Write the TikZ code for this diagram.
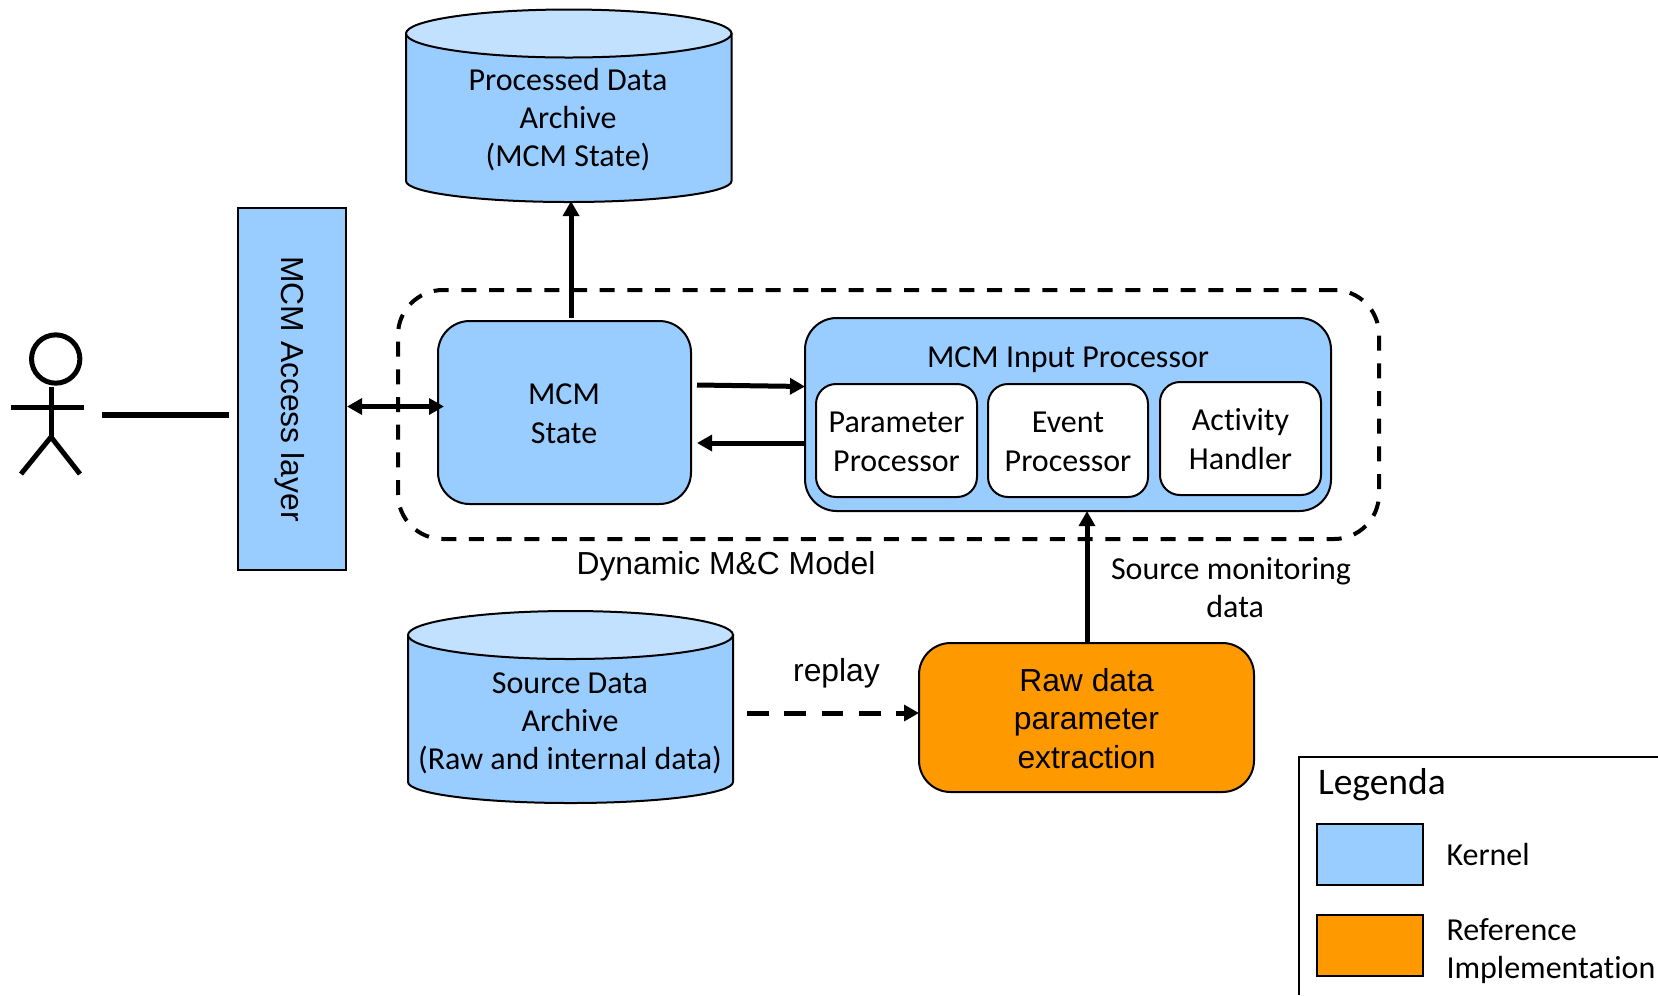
\documentclass[tikz,border=0pt]{standalone}
\usepackage{fontspec}
\setmainfont{Carlito}[Ligatures=NoCommon]
\newfontfamily\arialfont{Liberation Sans}
\usetikzlibrary{arrows.meta}
\definecolor{kernelblue}{HTML}{99CCFF}
\definecolor{kerneltop}{HTML}{C2E0FF}
\definecolor{refobj}{HTML}{FF9900}
\tikzset{
  pxsize/.style 2 args={minimum width=#1*0.6pt,minimum height=#2*0.6pt},
  base/.style={inner sep=0pt,outer sep=0pt,line width=1.2pt,draw=black,align=center},
  kernelbox/.style={base,fill=kernelblue,rounded corners=19pt},
  whitebox/.style={base,fill=white,rounded corners=12pt},
  refbox/.style={base,fill=refobj,rounded corners=19pt},
  squarebox/.style={base,fill=kernelblue},
  dynbox/.style={inner sep=0pt,outer sep=0pt,draw=black,line width=2.4pt,rounded corners=27pt,
    dash pattern=on 9pt off 7.6pt},
  lab/.style={inner sep=0pt,outer sep=0pt,align=center,font=\fontsize{19.2}{22.8}\selectfont},
  boxlab/.style={font=\fontsize{19.2}{23.5}\selectfont},
  arlab/.style={inner sep=0pt,outer sep=0pt,align=center,font=\arialfont\fontsize{19.1}{23.2}\selectfont},
  flow/.style={line width=3pt,-{Triangle[length=9pt,width=9.5pt]}},
  flowboth/.style={line width=3pt,{Triangle[length=9pt,width=9.5pt]}-{Triangle[length=9pt,width=9.5pt]}},
  stick/.style={line width=3pt,draw=black},
  drumside/.style={line width=1.2pt,draw=black,fill=kernelblue},
  drumlid/.style={line width=1.2pt,draw=black,fill=kerneltop},
}
% #1 left, #2 right, #3 lid centre y, #4 lower side end y
\newcommand{\drumshape}[4]{%
  \pgfmathsetmacro{\drx}{(#2-#1)/2}%
  \draw[drumside] (#1,#3) -- (#1,#4) arc[start angle=180,end angle=360,x radius=\drx*0.6pt,y radius=21*0.6pt] -- (#2,#3) -- cycle;
  \draw[drumlid] (#1,#3) arc[start angle=180,end angle=-180,x radius=\drx*0.6pt,y radius=24*0.6pt];
}
\begin{document}
\begin{tikzpicture}[x=0.6pt,y=-0.6pt]
\useasboundingbox (0,0) rectangle (1658,995);
% cylinders
\drumshape{406}{731.5}{33.5}{181}
\drumshape{408}{733}{635}{782}
\node[lab,pxsize={325}{192}] (proc) at (569,106) {};
\node[lab] (proctxt) at (568,120) {Processed Data\\Archive\\(MCM State)};
\node[lab,pxsize={325}{193}] (src) at (570.5,707.5) {};
\node[lab] (srctxt) at (570,723) {Source Data\\Archive\\(Raw and internal data)};
% access layer
\node[squarebox,pxsize={108}{362}] (access) at (292,389) {};
\node[arlab,rotate=-90] (accesstxt) at (290,389) {MCM Access layer};
% dynamic model
\node[dynbox,pxsize={981}{249}] (dyn) at (888.5,414.5) {};
\node[arlab] (dyntxt) at (726,566) {Dynamic M\&C Model};
\node[kernelbox,pxsize={253}{183}] (state) at (564.5,412.5) {};
\node[lab,boxlab] (statetxt) at (564,414) {MCM\\State};
\node[kernelbox,pxsize={526}{193}] (input) at (1068,414.5) {};
\node[lab] (inputtxt) at (1068,360) {MCM Input Processor};
\node[whitebox,pxsize={161}{113}] (param) at (896.5,440.5) {};
\node[lab,boxlab] (paramtxt) at (896.5,441.5) {Parameter\\Processor};
\node[whitebox,pxsize={160}{113}] (event) at (1068,440.5) {};
\node[lab,boxlab] (eventtxt) at (1068,441.5) {Event\\Processor};
\node[whitebox,pxsize={161}{113}] (activity) at (1240.5,438.5) {};
\node[lab,boxlab] (activitytxt) at (1240.5,439.5) {Activity\\Handler};
\node[refbox,pxsize={335}{149}] (raw) at (1086.5,717.5) {};
\node[arlab] (rawtxt) at (1086.5,718.5) {Raw data\\parameter\\extraction};
\node[lab] (srcmon) at (1231,587.5) {Source monitoring\\\hspace*{5pt}data};
\node[arlab] (replay) at (836.5,673.5) {replay};
% connectors
\coordinate (stateTop) at (571,318);
\coordinate (procBottom) at (571,201);
\draw[flow] (stateTop) -- (procBottom);
\coordinate (stR) at (697,385);
\coordinate (inL) at (805,386.5);
\draw[flow] (stR) -- (inL);
\coordinate (inL2) at (805,443);
\coordinate (stR2) at (697,443);
\draw[flow] (inL2) -- (stR2);
\coordinate (accessR) at (347,406.5);
\coordinate (stateL) at (444,406.5);
\draw[flowboth] (accessR) -- (stateL);
\coordinate (rawTop) at (1087,643);
\coordinate (inB) at (1087,511);
\draw[flow] (rawTop) -- (inB);
\coordinate (srcR) at (747,713);
\coordinate (rawL) at (919,713);
\draw[line width=3pt,dash pattern=on 13pt off 9.4pt,-{Triangle[length=9pt,width=9.5pt]}] (srcR) -- (rawL);
% actor
\node[circle,draw=black,line width=3pt,inner sep=0pt,minimum size=29pt] (head) at (55.7,359) {};
\coordinate (neck) at (51,387);
\coordinate (hip) at (51,437);
\coordinate (armL) at (11,407);
\coordinate (armR) at (84,407);
\coordinate (legL) at (21,474);
\coordinate (legR) at (80,474);
\draw[stick] (neck) -- (hip);
\draw[stick] (armL) -- (armR);
\draw[stick] (legL) -- (hip) -- (legR);
\coordinate (actorLineA) at (102,415);
\coordinate (actorLineB) at (229,415);
\draw[line width=3.6pt] (actorLineA) -- (actorLineB);
% legend
\coordinate (legA) at (1299,995);
\coordinate (legB) at (1299,757);
\coordinate (legC) at (1658,757);
\draw[line width=1.2pt] (legA) -- (legB) -- (legC);
\node[lab,font=\fontsize{22.5}{26}\selectfont,anchor=west] (legtitle) at (1318,785) {Legenda};
\node[base,fill=kernelblue,pxsize={106}{61}] (lk) at (1370,854.5) {};
\node[base,fill=refobj,pxsize={106}{61}] (lr) at (1370,945.5) {};
\node[lab,anchor=west] (lkt) at (1446.5,854) {Kernel};
\node[lab,anchor=west,align=left] (lrt) at (1446.5,951.5) {Reference\\Implementation};
\end{tikzpicture}
\end{document}
